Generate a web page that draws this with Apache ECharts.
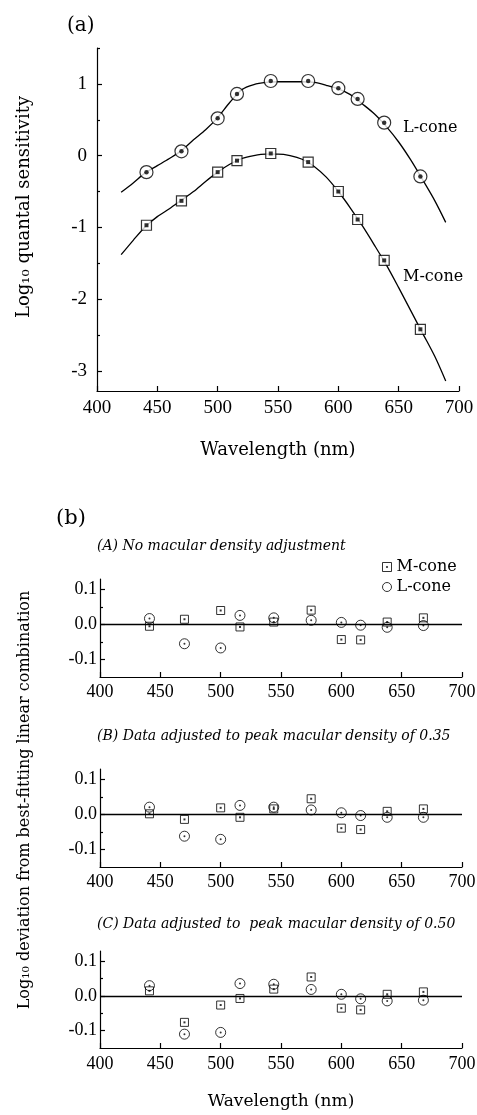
<!DOCTYPE html>
<html><head><meta charset="utf-8">
<script src="https://cdn.jsdelivr.net/npm/echarts@6/dist/echarts.min.js"></script>
<style>html,body{margin:0;padding:0;background:#fff}#c{width:477px;height:1115px}</style>
</head><body><div id="c"></div>
<script>
// ---- data ----
const wavelengths = [441, 470, 500, 516, 544, 575, 600, 616, 638, 668];
const lConeSens = [-0.23, 0.06, 0.52, 0.86, 1.04, 1.04, 0.94, 0.79, 0.46, -0.29];
const mConeSens = [-0.97, -0.63, -0.23, -0.07, 0.03, -0.09, -0.50, -0.89, -1.46, -2.42];

const curveWl   = [420, 430, 440, 450, 460, 470, 480, 490, 500, 510, 520, 530, 540, 550, 560, 570, 580, 590, 600, 610, 620, 630, 640, 650, 660, 670, 680, 689];
const lConeFit  = [-0.51, -0.38, -0.24, -0.14, -0.04, 0.07, 0.22, 0.36, 0.53, 0.74, 0.92, 0.99, 1.02, 1.03, 1.03, 1.03, 1.02, 0.98, 0.93, 0.85, 0.72, 0.58, 0.40, 0.19, -0.06, -0.34, -0.63, -0.93];
const mConeFit  = [-1.38, -1.18, -0.99, -0.85, -0.74, -0.62, -0.50, -0.36, -0.23, -0.12, -0.04, 0.00, 0.02, 0.02, 0.00, -0.05, -0.15, -0.30, -0.50, -0.73, -0.98, -1.25, -1.53, -1.84, -2.16, -2.48, -2.80, -3.14];

const devA_M = [-0.005, 0.015, 0.040, -0.007, 0.007, 0.041, -0.043, -0.044, 0.007, 0.019];
const devA_L = [0.017, -0.055, -0.067, 0.026, 0.019, 0.012, 0.006, -0.002, -0.008, -0.003];
const devB_M = [0.002, -0.014, 0.019, -0.008, 0.016, 0.045, -0.039, -0.043, 0.009, 0.016];
const devB_L = [0.021, -0.062, -0.071, 0.026, 0.021, 0.013, 0.005, -0.003, -0.008, -0.008];
const devC_M = [0.015, -0.076, -0.026, -0.007, 0.020, 0.055, -0.035, -0.040, 0.005, 0.012];
const devC_L = [0.030, -0.110, -0.105, 0.036, 0.034, 0.019, 0.005, -0.008, -0.014, -0.012];

const sensTicks = [-3, -2, -1, 0, 1];
const sensMinorTicks = [-2.5, -1.5, -0.5, 0.5, 1.5];
const devTicks = [-0.1, 0, 0.1];
const devMinorTicks = [-0.05, 0.05];

const panelTitles = ['(A) No macular density adjustment',
  '(B) Data adjusted to peak macular density of 0.35',
  '(C) Data adjusted to  peak macular density of 0.50'];

// ---- helpers ----
const pairs = (xs, ys) => xs.map((x, i) => [x, ys[i]]);
const SERIF = 'DejaVu Serif';
const NUM = 'Liberation Serif';
const black = '#000';

const grids = [
  {left: 97, top: 48, width: 362, height: 343},
  {left: 100, top: 579, width: 362, height: 98},
  {left: 100, top: 769, width: 362, height: 98},
  {left: 100, top: 951, width: 362, height: 97}
].map(g => Object.assign({containLabel: false, outerBoundsMode: 'none'}, g));

function xAx(gi, fs, margin, name, nameGap, nameFs) {
  return {
    gridIndex: gi, type: 'value', min: 400, max: 700, interval: 50,
    axisLine: {show: true, onZero: false, lineStyle: {color: black, width: 1.2}},
    axisTick: {show: true, inside: true, length: 5, lineStyle: {color: black, width: 1.2}},
    axisLabel: {color: black, fontFamily: NUM, fontSize: fs, margin: margin},
    splitLine: {show: false},
    name: name || '', nameLocation: 'middle', nameGap: nameGap || 0,
    nameTextStyle: {fontFamily: SERIF, fontSize: nameFs || 18, color: black}
  };
}
function yAx(gi, min, max, ticks, minor, fs, margin, fmt) {
  return [{
    gridIndex: gi, type: 'value', min: min, max: max, position: 'left',
    axisLine: {show: true, onZero: false, lineStyle: {color: black, width: 1.2}},
    axisTick: {show: true, inside: true, length: 5, customValues: ticks, lineStyle: {color: black, width: 1.2}},
    axisLabel: {customValues: ticks, color: black, fontFamily: NUM, fontSize: fs, margin: margin, formatter: fmt},
    splitLine: {show: false}
  }, {
    gridIndex: gi, type: 'value', min: min, max: max, position: 'left', offset: 0,
    axisLine: {show: false, onZero: false},
    axisTick: {show: true, inside: true, length: 3, customValues: minor, lineStyle: {color: black, width: 1.2}},
    axisLabel: {show: false},
    splitLine: {show: false}
  }];
}

const xAxes = [
  xAx(0, 19, 8, 'Wavelength (nm)', 50, 18),
  xAx(1, 18, 6),
  xAx(2, 18, 6),
  xAx(3, 18, 7, 'Wavelength (nm)', 45, 17)
];
const fmtSens = v => String(v);
const fmtDev = v => Number(v).toFixed(1);
const yAxes = [].concat(
  yAx(0, -3.28, 1.5, sensTicks, sensMinorTicks, 19, 10, fmtSens),
  yAx(1, -0.15, 0.13, devTicks, devMinorTicks, 18, 3, fmtDev),
  yAx(2, -0.15, 0.13, devTicks, devMinorTicks, 18, 3, fmtDev),
  yAx(3, -0.15, 0.13, devTicks, devMinorTicks, 18, 3, fmtDev)
);

const series = [];
// panel (a)
[[lConeFit, 'L-cone fit'], [mConeFit, 'M-cone fit']].forEach(([ys, nm]) => {
  series.push({
    name: nm, type: 'line', xAxisIndex: 0, yAxisIndex: 0, data: pairs(curveWl, ys),
    smooth: 0.3, showSymbol: false, symbol: 'none', silent: true, z: 1,
    lineStyle: {color: black, width: 1.3}
  });
});
series.push({name: 'L-cone a', type: 'scatter', xAxisIndex: 0, yAxisIndex: 0, data: pairs(wavelengths, lConeSens),
  symbol: 'circle', symbolSize: 13, z: 3, silent: true,
  itemStyle: {color: '#fff', borderColor: black, borderWidth: 1.2}});
series.push({name: 'L-cone a dot', type: 'scatter', xAxisIndex: 0, yAxisIndex: 0, data: pairs(wavelengths, lConeSens),
  symbol: 'circle', symbolSize: 4.5, z: 4, silent: true, itemStyle: {color: black}});
series.push({name: 'M-cone a', type: 'scatter', xAxisIndex: 0, yAxisIndex: 0, data: pairs(wavelengths, mConeSens),
  symbol: 'rect', symbolSize: 10, z: 3, silent: true,
  itemStyle: {color: '#fff', borderColor: black, borderWidth: 1.2}});
series.push({name: 'M-cone a dot', type: 'scatter', xAxisIndex: 0, yAxisIndex: 0, data: pairs(wavelengths, mConeSens),
  symbol: 'rect', symbolSize: 4, z: 4, silent: true, itemStyle: {color: black}});

// panel (b)
const devSets = [[devA_M, devA_L], [devB_M, devB_L], [devC_M, devC_L]];
devSets.forEach(([mv, lv], k) => {
  const gi = k + 1, yi = gi * 2;
  series.push({name: 'M-cone', type: 'scatter', xAxisIndex: gi, yAxisIndex: yi, data: pairs(wavelengths, mv),
    symbol: 'rect', symbolSize: 8, z: 3, silent: true,
    itemStyle: {color: 'rgba(0,0,0,0)', borderColor: black, borderWidth: 1},
    markLine: {silent: true, symbol: ['none', 'none'], label: {show: false}, z: 1,
      lineStyle: {color: black, type: 'solid', width: 1.4}, data: [{yAxis: 0}]}});
  series.push({name: 'M dot', type: 'scatter', xAxisIndex: gi, yAxisIndex: yi, data: pairs(wavelengths, mv),
    symbol: 'rect', symbolSize: 2, z: 4, silent: true, itemStyle: {color: black}});
  series.push({name: 'L-cone', type: 'scatter', xAxisIndex: gi, yAxisIndex: yi, data: pairs(wavelengths, lv),
    symbol: 'circle', symbolSize: 10, z: 3, silent: true,
    itemStyle: {color: 'rgba(0,0,0,0)', borderColor: black, borderWidth: 1}});
  series.push({name: 'L dot', type: 'scatter', xAxisIndex: gi, yAxisIndex: yi, data: pairs(wavelengths, lv),
    symbol: 'circle', symbolSize: 2, z: 4, silent: true, itemStyle: {color: black}});
});

const ttl = (text, left, top, fs, italic) => ({
  text: text, left: left, top: top, padding: 0,
  textStyle: {fontFamily: SERIF, fontSize: fs, fontWeight: 'normal', fontStyle: italic ? 'italic' : 'normal', color: black}
});

const option = {
  animation: false,
  backgroundColor: '#fff',
  grid: grids,
  xAxis: xAxes,
  yAxis: yAxes,
  title: [
    ttl('(a)', 67, 16, 20),
    ttl('L-cone', 403, 120, 16),
    ttl('M-cone', 403, 269, 16),
    ttl('(b)', 56, 508, 21),
    ttl(panelTitles[0], 97, 539, 14, true),
    ttl(panelTitles[1], 97, 729, 14, true),
    ttl(panelTitles[2], 97, 917, 14, true)
  ],
  legend: {
    data: [
      {name: 'M-cone', icon: 'path://M0,0L10,0L10,10L0,10Z M4.4,4.4L5.6,4.4L5.6,5.6L4.4,5.6Z',
        itemStyle: {color: '#fff', borderColor: black, borderWidth: 1}},
      {name: 'L-cone', icon: 'circle',
        itemStyle: {color: '#fff', borderColor: black, borderWidth: 1}}
    ],
    orient: 'vertical', left: 382, top: 559, itemWidth: 9, itemHeight: 9, itemGap: 4,
    selectedMode: false, padding: 0,
    itemStyle: {color: '#fff', borderColor: black, borderWidth: 1},
    textStyle: {fontFamily: SERIF, fontSize: 16, lineHeight: 16, color: black}
  },
  graphic: [
    {type: 'text', x: 24, y: 207, rotation: Math.PI / 2, silent: true,
      style: {text: 'Log\u2081\u2080 quantal sensitivity', font: '18px "DejaVu Serif"', fill: black, textAlign: 'center', textVerticalAlign: 'middle'}},
    {type: 'text', x: 25, y: 800, rotation: Math.PI / 2, silent: true,
      style: {text: 'Log\u2081\u2080 deviation from best-fitting linear combination', font: '16px "DejaVu Serif"', fill: black, textAlign: 'center', textVerticalAlign: 'middle'}}
  ],
  series: series
};

const chart = echarts.init(document.getElementById('c'), null, {renderer: 'canvas'});
chart.setOption(option);
</script></body></html>
